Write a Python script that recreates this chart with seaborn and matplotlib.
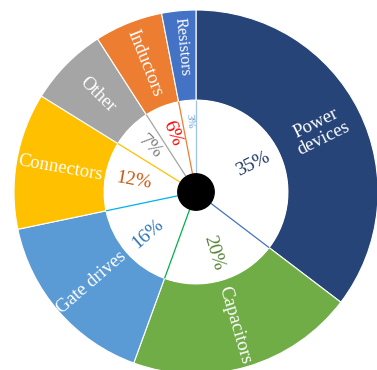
import matplotlib
matplotlib.use("Agg")
import matplotlib.pyplot as plt
import numpy as np
import seaborn as sns
from matplotlib.patches import Circle

# Component cost breakdown
categories = ["Power\ndevices", "Capacitors", "Gate drives", "Connectors",
              "Other", "Inductors", "Resistors"]
shares = [35, 20, 16, 12, 7, 6, 3]
pct_labels = ["35%", "20%", "16%", "12%", "7%", "6%", "3%"]

sns.set_theme(style="white")
plt.rcParams["font.family"] = ["Liberation Serif", "DejaVu Serif"]

ring_colors = sns.color_palette(["#264478", "#70ad47", "#5b9bd5", "#ffc000",
                                 "#a5a5a5", "#ed7d31", "#4472c4"])
pct_colors = ["#203864", "#548235", "#2e75b6", "#c55a11",
              "#7f7f7f", "#ff0000", "#5b9bd5"]
# separator drawn at the start edge of each wedge in the inner disc
spoke_colors = ["#9dc3e6", "#4472c4", "#00b050", "#00b0f0",
                "#ffc000", "#a5a5a5", "#ed7d31"]

R_IN = 0.505

fig = plt.figure(figsize=(3.77, 3.70), dpi=100)
ax = fig.add_axes([0, 0, 1, 1])

outer, _ = ax.pie(shares, colors=ring_colors, startangle=90, counterclock=False,
                  radius=1.0,
                  wedgeprops=dict(width=1 - R_IN, edgecolor="white", linewidth=0.8))
inner, _ = ax.pie(shares, colors=["white"] * len(shares), startangle=90,
                  counterclock=False, radius=R_IN,
                  wedgeprops=dict(linewidth=0))

for w, c in zip(outer, spoke_colors):
    a = np.deg2rad(w.theta2)
    ax.plot([0, R_IN * np.cos(a)], [0, R_IN * np.sin(a)], color=c, lw=0.9,
            solid_capstyle="butt", zorder=3)

ax.add_patch(Circle((0, 0), 0.1, color="black", zorder=5))


def upright(angle):
    angle = (angle + 180) % 360 - 180
    if angle > 90:
        angle -= 180
    elif angle < -90:
        angle += 180
    return angle


for w, name, pct, pc, share in zip(outer, categories, pct_labels, pct_colors, shares):
    mid = 0.5 * (w.theta1 + w.theta2)
    a = np.deg2rad(mid)
    rot = upright(mid)
    small = share < 5
    r_lab = 0.8 if small else 0.76
    ax.text(r_lab * np.cos(a), r_lab * np.sin(a), name, color="white",
            fontsize=11.5 if small else 13.5, rotation=rot, rotation_mode="anchor",
            ha="center", va="center", linespacing=1.0, zorder=4)
    r_pct = 0.39 if small else 0.35
    ax.text(r_pct * np.cos(a), r_pct * np.sin(a), pct, color=pc,
            fontsize=8 if small else 14, rotation=rot, rotation_mode="anchor",
            ha="center", va="center", zorder=4)

cx, cy, scale = 196, 192, 182
ax.set_xlim(-cx / scale, (377 - cx) / scale)
ax.set_ylim(-(370 - cy) / scale, cy / scale)
ax.set_aspect("auto")
ax.axis("off")

fig.savefig("out.png", dpi=100, facecolor="white")
